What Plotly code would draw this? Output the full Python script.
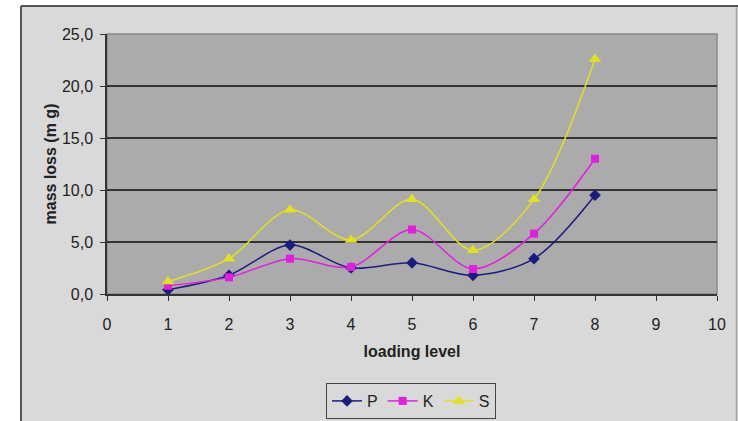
import plotly.graph_objects as go

# loading levels and mass loss per series
levels = [1, 2, 3, 4, 5, 6, 7, 8]
mass_P = [0.4, 1.8, 4.7, 2.5, 3.0, 1.8, 3.4, 9.5]
mass_K = [0.8, 1.6, 3.4, 2.6, 6.2, 2.4, 5.8, 13.0]
mass_S = [1.2, 3.4, 8.1, 5.2, 9.1, 4.2, 9.1, 22.6]

y_ticks = [0, 5, 10, 15, 20, 25]
y_tick_text = ["0,0", "5,0", "10,0", "15,0", "20,0", "25,0"]
x_ticks = [0, 1, 2, 3, 4, 5, 6, 7, 8, 9, 10]

W, H = 738, 421
L, R, T, B = 107, 21, 34, 127
pw, ph = W - L - R, H - T - B


def px(x):
    return (x - L) / pw


def py(y):
    return (H - B - y) / ph


font = "Liberation Sans, Arial, sans-serif"

fig = go.Figure()
series = [
    ("P", mass_P, "#1C1C80", "diamond", 9),
    ("K", mass_K, "#E41EE0", "square", 8),
    ("S", mass_S, "#E2E21C", "triangle-up", 11),
]
for name, vals, color, sym, size in series:
    fig.add_trace(go.Scatter(
        x=levels, y=vals, name=name, mode="lines+markers",
        line=dict(color=color, width=1.5, shape="spline", smoothing=0.9),
        marker=dict(symbol=sym, size=size, color=color),
    ))

shapes = [
    # white strips outside the chart area
    dict(type="rect", xref="paper", yref="paper", x0=px(-50), x1=px(21), y0=py(500), y1=py(-50),
         fillcolor="white", line=dict(width=0), layer="below"),
    dict(type="rect", xref="paper", yref="paper", x0=px(-50), x1=px(800), y0=py(6), y1=py(-50),
         fillcolor="white", line=dict(width=0), layer="below"),
    # chart-area border
    dict(type="line", xref="paper", yref="paper", x0=px(21), x1=px(21), y0=py(6), y1=py(430),
         line=dict(color="#555555", width=2)),
    dict(type="line", xref="paper", yref="paper", x0=px(21), x1=px(745), y0=py(6), y1=py(6),
         line=dict(color="#555555", width=2)),
    dict(type="line", xref="paper", yref="paper", x0=px(736.5), x1=px(736.5), y0=py(7), y1=py(430),
         line=dict(color="#A8A8A8", width=1.5)),
    # plot-area frame
    dict(type="rect", xref="paper", yref="paper", x0=0, x1=1, y0=0, y1=1,
         fillcolor="rgba(0,0,0,0)", line=dict(color="#8A8A8A", width=1.5), layer="below"),
]

fig.update_layout(
    width=W, height=H,
    margin=dict(l=L, r=R, t=T, b=B, autoexpand=False),
    paper_bgcolor="#D9D9D9",
    plot_bgcolor="#ABABAB",
    font=dict(family=font, size=16, color="#222222"),
    shapes=shapes,
    showlegend=True,
    legend=dict(
        orientation="h", x=px(411), xanchor="center", y=py(383), yanchor="top",
        bgcolor="#D9D9D9", bordercolor="#444444", borderwidth=1,
        font=dict(size=16, color="#222222"), itemwidth=30,
        tracegroupgap=0,
    ),
    xaxis=dict(
        range=[0, 10], tickvals=x_ticks, showgrid=False, zeroline=False,
        showline=True, linecolor="#333333", linewidth=1.5,
        ticks="outside", ticklen=5, tickcolor="#333333", tickwidth=1,
        tickfont=dict(size=16), ticklabelstandoff=10,
        title=dict(text="<b>loading level</b>", font=dict(size=16), standoff=14),
    ),
    yaxis=dict(
        range=[0, 25], tickvals=y_ticks, ticktext=y_tick_text,
        showgrid=True, gridcolor="#333333", gridwidth=1.5, zeroline=False,
        showline=True, linecolor="#333333", linewidth=1.5,
        ticks="outside", ticklen=5, tickcolor="#333333", tickwidth=1,
        tickfont=dict(size=16), ticklabelstandoff=4,
        title=dict(text="<b>mass loss (m g)</b>", font=dict(size=16), standoff=1),
    ),
)

fig.write_html("out.html")
